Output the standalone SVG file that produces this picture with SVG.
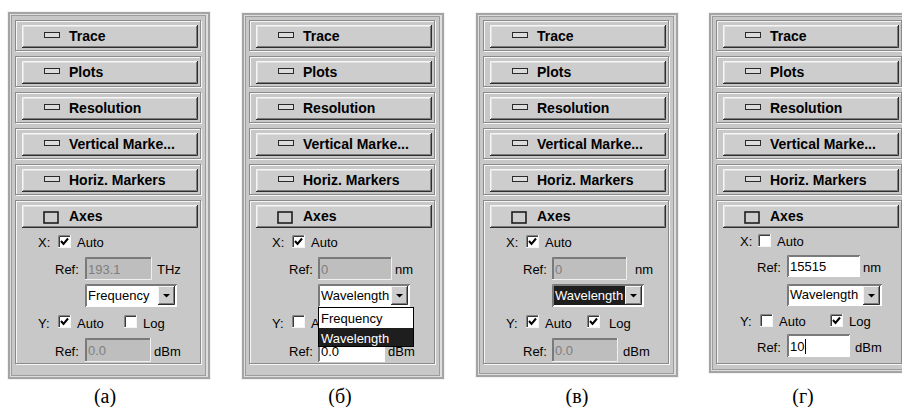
<svg xmlns="http://www.w3.org/2000/svg" width="902" height="407" viewBox="0 0 902 407">
<style>
 .bt{font:bold 14px "Liberation Sans",Arial,sans-serif;fill:#000}
 .t{font:13px "Liberation Sans",Arial,sans-serif;fill:#000}
 .g{fill:#7f7f7f}
 .w{fill:#fff}
 .cap{font:20px "Liberation Serif","Times New Roman",serif;fill:#000;text-anchor:middle}
 .ck{fill:none;stroke:#000;stroke-width:2}
 .ln{fill:none}
</style>
<defs>
 <clipPath id="cutA"><rect x="0" y="0" width="318" height="407"/></clipPath>
 <clipPath id="cutB"><rect x="0" y="347" width="902" height="60"/></clipPath>
 <g id="btn">
  <rect x="22" y="0" width="176" height="23" fill="#cdcdcd"/>
  <path d="M22.5 22.5V0.5H197.5" class="ln" stroke="#f6f6f6"/>
  <path d="M23.5 21.5V1.5H196.5" class="ln" stroke="#e2e2e2"/>
  <path d="M22 22.5H197.5V0" class="ln" stroke="#2e2e2e"/>
  <path d="M23 21.5H196.5V1" class="ln" stroke="#7c7c7c"/>
  <rect x="44.5" y="7.5" width="15" height="5" fill="#dcdcdc" stroke="#2a2a2a"/>
 </g>
 <g id="sec">
  <rect x="16.5" y="1.5" width="185" height="30" class="ln" stroke="#f6f6f6"/>
  <rect x="15.5" y="0.5" width="185" height="30" class="ln" stroke="#8a8a8a"/>
 </g>
 <g id="stack">
  <use href="#sec" y="20"/><use href="#sec" y="56"/><use href="#sec" y="92"/><use href="#sec" y="128"/><use href="#sec" y="164"/>
  <rect x="16.5" y="201.5" width="185" height="163" class="ln" stroke="#f6f6f6"/>
  <rect x="15.5" y="200.5" width="185" height="163" class="ln" stroke="#8a8a8a"/>
  <use href="#btn" y="25"/><use href="#btn" y="61"/><use href="#btn" y="97"/><use href="#btn" y="133"/><use href="#btn" y="169"/>
  <rect x="22" y="205" width="176" height="23" fill="#cdcdcd"/>
  <path d="M22.5 227.5V205.5H197.5" class="ln" stroke="#f6f6f6"/>
  <path d="M23.5 226.5V206.5H196.5" class="ln" stroke="#e2e2e2"/>
  <path d="M22 227.5H197.5V205" class="ln" stroke="#2e2e2e"/>
  <path d="M23 226.5H196.5V206" class="ln" stroke="#7c7c7c"/>
  <rect x="44" y="212" width="14" height="11" fill="#cdcdcd" stroke="#1e1e1e" stroke-width="1.6"/>
 </g>
 <g id="cb">
  <rect width="13" height="13" fill="#fff"/>
  <path d="M0.5 13V0.5H13" class="ln" stroke="#858585"/>
  <path d="M1.5 12V1.5H12" class="ln" stroke="#3a3a3a"/>
  <path d="M0 12.5H12.5V0" class="ln" stroke="#f4f4f4"/>
 </g>
 <polyline id="chk" points="3,6 5.5,9 10,3.5" class="ck"/>
 <g id="arr">
  <rect width="17" height="19" fill="#cdcdcd"/>
  <path d="M0.5 18.5V0.5H16.5" class="ln" stroke="#f4f4f4"/>
  <path d="M0 18.5H16.5V0" class="ln" stroke="#2e2e2e"/>
  <path d="M1 17.5H15.5V1" class="ln" stroke="#7c7c7c"/>
  <path d="M5 8H12L8.5 11.5Z" fill="#000"/>
 </g>
</defs>

<rect width="902" height="407" fill="#fff"/>

<!-- Panel (a) -->
<g id="panel-a">
 <rect x="7" y="11" width="204" height="369" fill="#f2f2f2"/>
 <rect x="8" y="12" width="202" height="367" fill="#a4a4a4"/>
 <rect x="10" y="14" width="198" height="363" fill="#dedede"/>
 <rect x="11" y="15" width="195" height="361" fill="#9c9c9c"/>
 <rect x="12" y="16" width="193" height="359" fill="#c8c8c8"/>
 <use href="#stack"/>
 <text class="bt" x="69" y="41">Trace</text>
 <text class="bt" x="69" y="77">Plots</text>
 <text class="bt" x="69" y="113">Resolution</text>
 <text class="bt" x="69" y="149">Vertical Marke...</text>
 <text class="bt" x="69" y="185">Horiz. Markers</text>
 <text class="bt" x="69" y="221">Axes</text>
 <text class="t" x="38" y="247">X:</text>
 <use href="#cb" x="58" y="235"/><use href="#chk" x="58" y="235"/>
 <text class="t" x="77" y="247">Auto</text>
 <text class="t" x="55" y="274">Ref:</text>
 <rect x="85" y="257" width="67" height="23" fill="#bebebe"/>
 <path d="M85.5 280V257.5H152M86.5 279V258.5H151" class="ln" stroke="#7a7a7a"/>
 <path d="M85 279.5H151.5V257" class="ln" stroke="#f0f0f0"/>
 <text class="t g" x="88" y="274">193.1</text>
 <text class="t" x="157" y="274">THz</text>
 <rect x="85" y="284" width="92" height="23" fill="#fff"/>
 <path d="M85.5 307V284.5H177M86.5 306V285.5H176" class="ln" stroke="#7a7a7a"/>
 <text class="t" x="88" y="300">Frequency</text>
 <use href="#arr" x="158" y="286"/>
 <text class="t" x="38" y="328">Y:</text>
 <use href="#cb" x="58" y="315"/><use href="#chk" x="58" y="315"/>
 <text class="t" x="77" y="328">Auto</text>
 <use href="#cb" x="124" y="315"/>
 <text class="t" x="143" y="328">Log</text>
 <text class="t" x="55" y="356">Ref:</text>
 <rect x="85" y="338" width="66" height="24" fill="#bebebe"/>
 <path d="M85.5 362V338.5H151M86.5 361V339.5H150" class="ln" stroke="#7a7a7a"/>
 <path d="M85 361.5H150.5V338" class="ln" stroke="#f0f0f0"/>
 <text class="t g" x="88" y="355">0.0</text>
 <text class="t" x="154" y="356">dBm</text>
 <text class="cap" x="105" y="403">(а)</text>
</g>

<!-- Panel (б) -->
<g id="panel-b">
 <rect x="241" y="12" width="204" height="368" fill="#f2f2f2"/>
 <rect x="242" y="13" width="202" height="366" fill="#a4a4a4"/>
 <rect x="244" y="15" width="198" height="362" fill="#dedede"/>
 <rect x="245" y="16" width="195" height="360" fill="#9c9c9c"/>
 <rect x="246" y="17" width="193" height="358" fill="#c8c8c8"/>
 <use href="#stack" x="234"/>
 <text class="bt" x="303" y="41">Trace</text>
 <text class="bt" x="303" y="77">Plots</text>
 <text class="bt" x="303" y="113">Resolution</text>
 <text class="bt" x="303" y="149">Vertical Marke...</text>
 <text class="bt" x="303" y="185">Horiz. Markers</text>
 <text class="bt" x="303" y="221">Axes</text>
 <text class="t" x="272" y="247">X:</text>
 <use href="#cb" x="292" y="235"/><use href="#chk" x="292" y="235"/>
 <text class="t" x="311" y="247">Auto</text>
 <text class="t" x="289" y="274">Ref:</text>
 <rect x="318" y="257" width="74" height="23" fill="#bebebe"/>
 <path d="M318.5 280V257.5H392M319.5 279V258.5H391" class="ln" stroke="#7a7a7a"/>
 <path d="M318 279.5H391.5V257" class="ln" stroke="#f0f0f0"/>
 <text class="t g" x="321" y="274">0</text>
 <text class="t" x="395" y="274">nm</text>
 <rect x="318" y="284" width="92" height="23" fill="#fff"/>
 <path d="M318.5 307V284.5H410M319.5 306V285.5H409" class="ln" stroke="#7a7a7a"/>
 <text class="t" x="321" y="300">Wavelength</text>
 <use href="#arr" x="391" y="286"/>
 <text class="t" x="272" y="328">Y:</text>
 <use href="#cb" x="292" y="315"/>
 <text class="t" x="311" y="328" clip-path="url(#cutA)">A</text>
 <text class="t" x="289" y="356">Ref:</text>
 <rect x="318" y="338" width="67" height="24" fill="#fff"/>
 <path d="M318.5 362V338.5H385M319.5 361V339.5H384" class="ln" stroke="#7a7a7a"/>
 <text class="t" x="321" y="356" clip-path="url(#cutB)">0.0</text>
 <text class="t" x="388" y="356" clip-path="url(#cutB)">dBm</text>
 <g id="popup">
  <rect x="318.5" y="307.5" width="95" height="39" fill="#fff" stroke="#000"/>
  <rect x="319" y="328" width="94" height="18" fill="#1e1e1e"/>
  <text class="t" x="321" y="323">Frequency</text>
  <text class="t w" x="321" y="343">Wavelength</text>
 </g>
 <text class="cap" x="340" y="403">(б)</text>
</g>

<!-- Panel (в) -->
<g id="panel-v">
 <rect x="475" y="12" width="204" height="366" fill="#f2f2f2"/>
 <rect x="476" y="13" width="202" height="364" fill="#a4a4a4"/>
 <rect x="478" y="15" width="198" height="360" fill="#dedede"/>
 <rect x="479" y="16" width="195" height="358" fill="#9c9c9c"/>
 <rect x="480" y="17" width="193" height="356" fill="#c8c8c8"/>
 <use href="#stack" x="468"/>
 <text class="bt" x="537" y="41">Trace</text>
 <text class="bt" x="537" y="77">Plots</text>
 <text class="bt" x="537" y="113">Resolution</text>
 <text class="bt" x="537" y="149">Vertical Marke...</text>
 <text class="bt" x="537" y="185">Horiz. Markers</text>
 <text class="bt" x="537" y="221">Axes</text>
 <text class="t" x="506" y="247">X:</text>
 <use href="#cb" x="526" y="235"/><use href="#chk" x="526" y="235"/>
 <text class="t" x="545" y="247">Auto</text>
 <text class="t" x="523" y="274">Ref:</text>
 <rect x="552" y="257" width="75" height="23" fill="#bebebe"/>
 <path d="M552.5 280V257.5H627M553.5 279V258.5H626" class="ln" stroke="#7a7a7a"/>
 <path d="M552 279.5H626.5V257" class="ln" stroke="#f0f0f0"/>
 <text class="t g" x="555" y="274">0</text>
 <text class="t" x="635" y="274">nm</text>
 <rect x="552" y="284" width="92" height="23" fill="#fff"/>
 <path d="M552.5 307V284.5H644M553.5 306V285.5H643" class="ln" stroke="#7a7a7a"/>
 <rect x="554" y="286" width="71" height="19" fill="#1e1e1e"/>
 <text class="t w" x="555" y="300">Wavelength</text>
 <use href="#arr" x="625" y="286"/>
 <text class="t" x="506" y="328">Y:</text>
 <use href="#cb" x="526" y="315"/><use href="#chk" x="526" y="315"/>
 <text class="t" x="545" y="328">Auto</text>
 <use href="#cb" x="587" y="315"/><use href="#chk" x="587" y="315"/>
 <text class="t" x="609" y="328">Log</text>
 <text class="t" x="523" y="356">Ref:</text>
 <rect x="552" y="338" width="66" height="24" fill="#bebebe"/>
 <path d="M552.5 362V338.5H618M553.5 361V339.5H617" class="ln" stroke="#7a7a7a"/>
 <path d="M552 361.5H617.5V338" class="ln" stroke="#f0f0f0"/>
 <text class="t g" x="555" y="355">0.0</text>
 <text class="t" x="623" y="356">dBm</text>
 <text class="cap" x="577" y="403">(в)</text>
</g>

<!-- Panel (г) -->
<g id="panel-g">
 <rect x="708" y="12" width="204" height="362" fill="#f2f2f2"/>
 <rect x="709" y="13" width="202" height="360" fill="#a4a4a4"/>
 <rect x="711" y="15" width="198" height="356" fill="#dedede"/>
 <rect x="712" y="16" width="195" height="354" fill="#9c9c9c"/>
 <rect x="713" y="17" width="193" height="352" fill="#c8c8c8"/>
 <use href="#stack" x="701"/>
 <text class="bt" x="770" y="41">Trace</text>
 <text class="bt" x="770" y="77">Plots</text>
 <text class="bt" x="770" y="113">Resolution</text>
 <text class="bt" x="770" y="149">Vertical Marke...</text>
 <text class="bt" x="770" y="185">Horiz. Markers</text>
 <text class="bt" x="770" y="221">Axes</text>
 <text class="t" x="740" y="246">X:</text>
 <use href="#cb" x="758" y="234"/>
 <text class="t" x="777" y="246">Auto</text>
 <text class="t" x="757" y="272">Ref:</text>
 <rect x="787" y="255" width="73" height="22" fill="#fff"/>
 <path d="M787.5 277V255.5H860M788.5 276V256.5H859" class="ln" stroke="#7a7a7a"/>
 <text class="t" x="790" y="271">15515</text>
 <text class="t" x="863" y="272">nm</text>
 <rect x="787" y="284" width="95" height="22" fill="#fff"/>
 <path d="M787.5 306V284.5H882M788.5 305V285.5H881" class="ln" stroke="#7a7a7a"/>
 <text class="t" x="790" y="299">Wavelength</text>
 <use href="#arr" x="863" y="286"/>
 <text class="t" x="740" y="326">Y:</text>
 <use href="#cb" x="760" y="314"/>
 <text class="t" x="779" y="326">Auto</text>
 <use href="#cb" x="830" y="314"/><use href="#chk" x="830" y="314"/>
 <text class="t" x="849" y="326">Log</text>
 <text class="t" x="757" y="352">Ref:</text>
 <rect x="787" y="334" width="63" height="23" fill="#fff"/>
 <path d="M787.5 357V334.5H850M788.5 356V335.5H849" class="ln" stroke="#7a7a7a"/>
 <text class="t" x="790" y="351">10</text>
 <path d="M805.5 339V354" stroke="#000"/>
 <text class="t" x="855" y="352">dBm</text>
 <text class="cap" x="803" y="403">(г)</text>
</g>
</svg>
